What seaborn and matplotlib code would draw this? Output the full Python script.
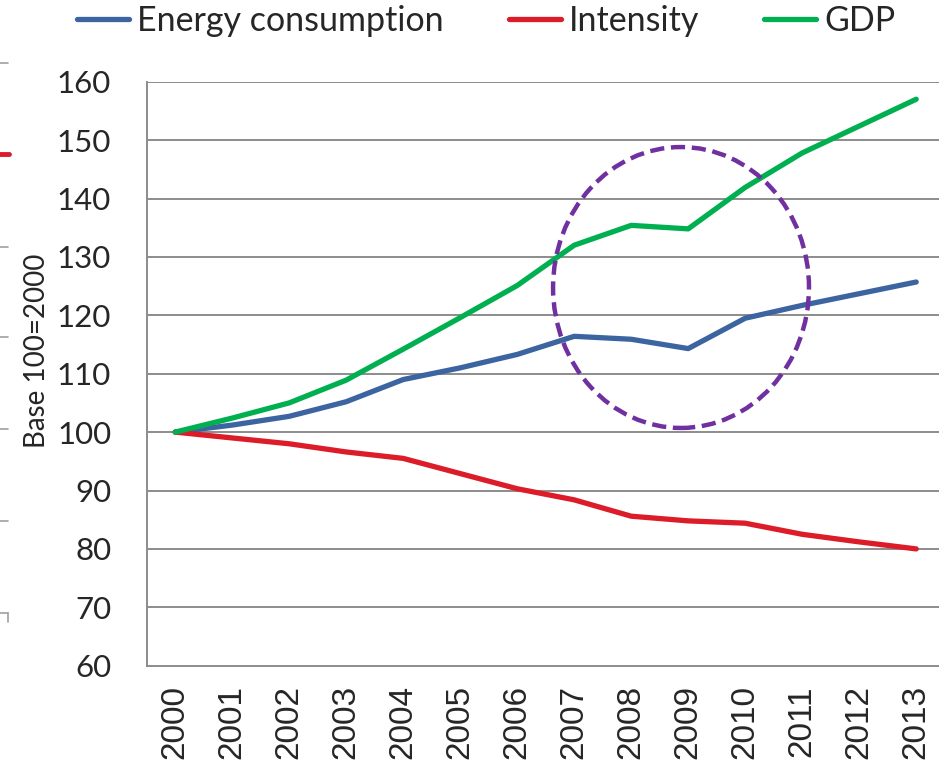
import numpy as np
import pandas as pd
import matplotlib
matplotlib.use("Agg")
import matplotlib.pyplot as plt
from matplotlib.patches import Ellipse
from matplotlib.lines import Line2D
import seaborn as sns

# Index values, base 100 = 2000
years = [2000, 2001, 2002, 2003, 2004, 2005, 2006, 2007, 2008, 2009, 2010, 2011, 2012, 2013]
energy = [100.0, 101.2, 102.7, 105.2, 109.0, 111.0, 113.3, 116.4, 115.9, 114.3, 119.5, 121.7, 123.7, 125.7]
intensity = [100.0, 99.0, 98.0, 96.6, 95.5, 92.9, 90.3, 88.4, 85.6, 84.8, 84.4, 82.5, 81.2, 80.0]
gdp = [100.0, 102.4, 105.0, 108.9, 114.2, 119.6, 125.1, 132.0, 135.4, 134.8, 141.9, 147.8, 152.4, 157.0]
series_names = ["Energy consumption", "Intensity", "GDP"]
series_colors = ["#3B64A0", "#DC1C28", "#00B050"]
y_ticks = [60, 70, 80, 90, 100, 110, 120, 130, 140, 150, 160]

df = pd.DataFrame({
    "year": years * 3,
    "value": energy + intensity + gdp,
    "series": [series_names[0]] * len(years) + [series_names[1]] * len(years) + [series_names[2]] * len(years),
})

sns.set_style("white")
plt.rcParams["font.family"] = ["Lato", "DejaVu Sans"]

W, H = 939, 769
fig = plt.figure(figsize=(W / 100, H / 100), dpi=100)
ax_left, ax_right = 146.7, 944.7
ax_top, ax_bottom = 81.7, 665.7
ax = fig.add_axes([ax_left / W, 1 - ax_bottom / H, (ax_right - ax_left) / W, (ax_bottom - ax_top) / H])

grid_c = "#8C8C8C"
for yv in y_ticks[1:]:
    ax.axhline(yv, color=grid_c, lw=1.4, zorder=0)

sns.lineplot(data=df, x="year", y="value", hue="series", hue_order=series_names,
             palette=series_colors, linewidth=3.8, ax=ax, legend=False,
             solid_capstyle="round", zorder=3)

# highlighted crisis period
ax.add_patch(Ellipse((2008.874, 124.76), 4.49, 48.1, fill=False, edgecolor="#7030A0",
                     lw=3.2, linestyle=(0, (3.2, 1.5)), zorder=4))

ax.set_xlim(1999.5, 2013.5)
ax.set_ylim(60, 160)
ax.set_yticks(y_ticks)
ax.set_yticklabels([str(v) for v in y_ticks], fontsize=22.5)
ax.set_xticks(np.arange(1999.5, 2014.0, 1.0))
ax.set_xticklabels([])
ax.set_xticks(years, minor=True)
ax.set_xticklabels([str(y) for y in years], minor=True, rotation=90,
                   fontsize=24, family=["Liberation Sans", "DejaVu Sans"])
ax.tick_params(axis="x", which="major", length=8, width=1.4, color=grid_c, direction="out")
ax.tick_params(axis="x", which="minor", length=0, pad=14)
ax.tick_params(axis="y", length=8.6, width=1.4, color=grid_c, direction="out", pad=17)
ax.set_xlabel("")
ax.set_ylabel("")
for s in ["top", "right"]:
    ax.spines[s].set_visible(False)
for s in ["left", "bottom"]:
    ax.spines[s].set_color(grid_c)
    ax.spines[s].set_linewidth(1.4)

fig.text(37 / W, 1 - 351 / H, "Base 100=2000", rotation=90, fontsize=20,
         ha="center", va="center")

handles = [Line2D([], [], color=c, lw=3.8, solid_capstyle="round") for c in series_colors]
fig.legend(handles, series_names, loc="center left", bbox_to_anchor=(77 / W, 1 - 21 / H),
           ncol=3, frameon=False, fontsize=24.5, handlelength=1.53, handletextpad=0.24,
           columnspacing=1.9, borderpad=0, borderaxespad=0)

# edge of the neighbouring panel
for yp in [63, 247, 337, 429, 521, 613]:
    fig.add_artist(Line2D([0, 8 / W], [1 - yp / H, 1 - yp / H], color="#A0A0A0", lw=1.2,
                          transform=fig.transFigure))
fig.add_artist(Line2D([8 / W, 8 / W], [1 - 613 / H, 1 - 622 / H], color="#A0A0A0", lw=1.2,
                      transform=fig.transFigure))
fig.add_artist(Line2D([0, 9 / W], [1 - 154 / H, 1 - 154 / H], color="#DC1C28", lw=3.5,
                      transform=fig.transFigure))

fig.savefig("out.png", dpi=100)
